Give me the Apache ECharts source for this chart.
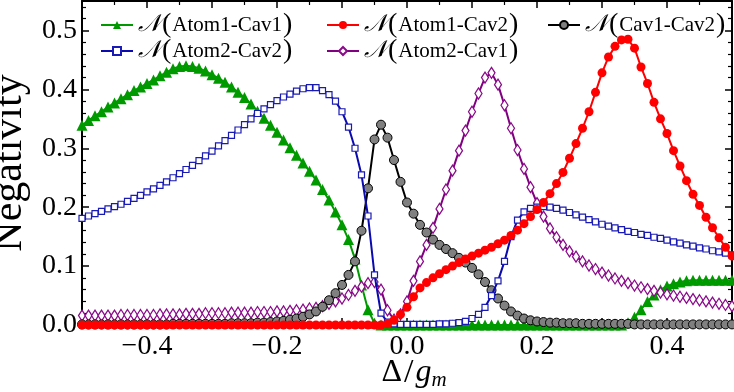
<!DOCTYPE html>
<html>
<head>
<meta charset="utf-8">
<script src="https://cdn.jsdelivr.net/npm/echarts@6/dist/echarts.min.js"></script>
<style>html,body{margin:0;padding:0;background:#fff}#c{width:734px;height:392px}</style>
</head>
<body>
<div id="c"></div>
<script>
// x grid: Delta/g_m from -0.5 to 0.5 in steps of 0.01
const xs = Array.from({length: 101}, (_, i) => +(-0.5 + 0.01 * i).toFixed(2));
const xTicks = [-0.4, -0.2, 0.0, 0.2, 0.4];
const yTicks = [0.0, 0.1, 0.2, 0.3, 0.4, 0.5];

const atom1Cav1 = [
  .339,.347,.355,.362,.370,.377,.384,.391,.398,.404,
  .410,.416,.423,.429,.435,.439,.440,.439,.436,.431,
  .425,.419,.412,.404,.395,.386,.375,.363,.351,.339,
  .327,.314,.301,.288,.275,.261,.246,.230,.212,.192,
  .170,.145,.112,.068,.026,.003,0,0,0,0,
  0,0,0,0,0,0,0,0,0,0,
  0,0,0,0,0,0,0,0,0,0,
  0,0,0,0,0,0,0,0,0,0,
  0,0,0,0,.004,.013,.026,.040,.051,.060,
  .066,.070,.073,.075,.076,.076,.076,.076,.076,.076,.076
];
const atom2Cav2 = [
  .181,.185,.189,.193,.197,.201,.205,.210,.215,.220,
  .226,.231,.237,.243,.250,.257,.264,.271,.279,.287,
  .295,.304,.313,.322,.331,.340,.350,.359,.367,.374,
  .381,.387,.392,.397,.401,.403,.403,.398,.391,.380,
  .362,.336,.300,.255,.185,.085,.020,.005,.002,.001,
  .001,.001,.001,.001,.001,.002,.002,.003,.004,.006,
  .011,.018,.030,.050,.075,.108,.150,.178,.192,.198,
  .200,.201,.200,.198,.195,.191,.187,.183,.179,.175,
  .171,.168,.165,.162,.159,.157,.154,.152,.149,.147,
  .144,.141,.139,.136,.134,.131,.129,.126,.124,.122,.119
];
const cav1Cav2 = [
  .001,.001,.001,.001,.001,.001,.001,.001,.001,.001,
  .001,.001,.001,.001,.002,.002,.002,.002,.002,.002,
  .002,.002,.002,.003,.003,.003,.003,.004,.004,.005,
  .006,.007,.009,.011,.014,.018,.023,.031,.042,.054,
  .068,.085,.108,.160,.232,.315,.340,.318,.280,.243,
  .208,.189,.170,.157,.145,.136,.129,.122,.114,.106,
  .097,.086,.073,.059,.045,.033,.023,.016,.011,.008,
  .006,.005,.004,.004,.003,.003,.003,.002,.002,.002,
  .002,.002,.002,.002,.002,.001,.001,.001,.001,.001,
  .001,.001,.001,.001,.001,.001,.001,.001,.001,.001,.001
];
const atom1Cav2 = [
  0,0,0,0,0,0,0,0,0,0,
  0,0,0,0,0,0,0,0,0,0,
  0,0,0,0,0,0,0,0,0,0,
  0,0,0,0,0,0,0,0,0,0,
  0,0,0,0,0,0,0,.002,.008,.018,
  .030,.048,.063,.072,.080,.087,.094,.100,.106,.112,
  .117,.122,.127,.132,.138,.144,.152,.161,.172,.184,
  .196,.208,.223,.240,.259,.283,.308,.334,.362,.395,
  .428,.455,.473,.484,.485,.470,.438,.410,.378,.350,
  .325,.296,.270,.245,.222,.203,.183,.165,.148,.132,.117
];
const atom2Cav1 = [
  .016,.016,.016,.016,.016,.016,.017,.017,.017,.017,
  .017,.017,.018,.018,.018,.018,.019,.019,.019,.020,
  .020,.020,.020,.021,.021,.021,.021,.022,.022,.022,
  .023,.023,.024,.025,.026,.028,.029,.032,.036,.040,
  .045,.051,.058,.065,.071,.073,.060,.025,.009,.018,
  .040,.075,.108,.136,.165,.197,.230,.262,.296,.330,
  .362,.393,.420,.428,.408,.373,.334,.297,.265,.234,
  .207,.184,.164,.149,.136,.125,.116,.108,.101,.095,
  .089,.084,.079,.075,.071,.067,.064,.061,.058,.055,
  .052,.050,.048,.046,.044,.042,.040,.038,.036,.034,.032
];

const pair = arr => xs.map((x, i) => [x, arr[i]]);
const SERIF = "'Liberation Serif','DejaVu Serif',serif";

const chart = echarts.init(document.getElementById('c'), null, {renderer: 'canvas'});

function legendAt(name, left, top) {
  return {
    data: [name], left: left, top: top, orient: 'horizontal',
    itemWidth: 32, itemHeight: 10, selectedMode: false, padding: 0,
    formatter: n => '{n|𝒩}{p|(}{t|' + n + '}{p|)}',
    textStyle: {
      color: '#000',
      rich: {
        n: {fontFamily: "'DejaVu Serif','DejaVu Sans',serif", fontSize: 24, fontStyle: 'italic', color: '#000'},
        p: {fontFamily: SERIF, fontSize: 28, color: '#000', padding: [0, 1, 0, 1]},
        t: {fontFamily: SERIF, fontSize: 21, color: '#000'}
      }
    }
  };
}

const axisCommon = {
  type: 'value',
  axisLine: {show: true, onZero: false, lineStyle: {color: '#000', width: 2}},
  axisTick: {show: true, inside: true, length: 7, lineStyle: {color: '#000', width: 1.5}},
  minorTick: {show: true, length: 4, lineStyle: {color: '#000', width: 1.2}},
  splitLine: {show: false},
  minorSplitLine: {show: false}
};

const fmtX = v => {
  const hit = xTicks.some(t => Math.abs(t - v) < 1e-6);
  if (!hit) return '';
  return (v < -1e-9 ? '\u2212' : '') + Math.abs(v).toFixed(1);
};
const fmtY = v => {
  const hit = yTicks.some(t => Math.abs(t - v) < 1e-6);
  return hit ? v.toFixed(1) : '';
};

const option = {
  animation: false,
  backgroundColor: '#fff',
  grid: {left: 82, right: 2, top: 1, bottom: 67, containLabel: false, outerBoundsMode: 'none'},
  legend: [
    legendAt('Atom1-Cav1', 100, 11),
    legendAt('Atom1-Cav2', 326, 11),
    legendAt('Cav1-Cav2', 547, 11),
    legendAt('Atom2-Cav2', 100, 37),
    legendAt('Atom2-Cav1', 326, 37)
  ],
  xAxis: [
    Object.assign({}, axisCommon, {
      position: 'bottom', min: -0.5, max: 0.5, interval: 0.1,
      minorTick: Object.assign({}, axisCommon.minorTick, {splitNumber: 2}),
      axisLabel: {show: true, formatter: fmtX, margin: 8, color: '#000', fontFamily: SERIF, fontSize: 28},
      name: '{d|\u0394}{s|/}{g|g}{m|m}', nameLocation: 'middle', nameGap: 30,
      nameMoveOverlap: false,
      nameTextStyle: {
        padding: [0, 0, 0, 14],
        rich: {
          d: {fontFamily: SERIF, fontSize: 32, color: '#000', lineHeight: 36},
          s: {fontFamily: SERIF, fontSize: 34, color: '#000', lineHeight: 36, padding: [0, 2, 0, 2]},
          g: {fontFamily: SERIF, fontSize: 32, fontStyle: 'italic', color: '#000', lineHeight: 36},
          m: {fontFamily: SERIF, fontSize: 21, fontStyle: 'italic', color: '#000', lineHeight: 14, verticalAlign: 'bottom'}
        }
      }
    }),
    Object.assign({}, axisCommon, {
      position: 'top', min: -0.5, max: 0.5, interval: 0.1,
      minorTick: Object.assign({}, axisCommon.minorTick, {splitNumber: 2}),
      axisLabel: {show: false}
    })
  ],
  yAxis: [
    Object.assign({}, axisCommon, {
      position: 'left', min: 0, max: 0.55, interval: 0.1,
      minorTick: Object.assign({}, axisCommon.minorTick, {splitNumber: 5}),
      axisLabel: {show: true, formatter: fmtY, margin: 5, color: '#000', fontFamily: SERIF, fontSize: 28},
      name: 'Negativity', nameLocation: 'middle', nameRotate: 90, nameGap: 45,
      nameTextStyle: {fontFamily: SERIF, fontSize: 42, color: '#000'}
    }),
    Object.assign({}, axisCommon, {
      position: 'right', min: 0, max: 0.55, interval: 0.1,
      minorTick: Object.assign({}, axisCommon.minorTick, {splitNumber: 5}),
      axisLabel: {show: false}
    })
  ],
  series: [
    {
      name: 'Atom1-Cav1', type: 'line', data: pair(atom1Cav1), showAllSymbol: true,
      symbol: 'triangle', symbolSize: 11,
      itemStyle: {color: '#009a00'}, lineStyle: {color: '#009a00', width: 2}, z: 2
    },
    {
      name: 'Atom2-Cav1', type: 'line', data: pair(atom2Cav1), showAllSymbol: true,
      symbol: 'diamond', symbolSize: [7, 11],
      itemStyle: {color: '#fff', borderColor: '#8a0a8a', borderWidth: 1.3},
      lineStyle: {color: '#800080', width: 2}, z: 3
    },
    {
      name: 'Cav1-Cav2', type: 'line', data: pair(cav1Cav2), showAllSymbol: true,
      symbol: 'circle', symbolSize: 9,
      itemStyle: {color: '#808080', borderColor: '#000', borderWidth: 1},
      lineStyle: {color: '#000', width: 2}, z: 4
    },
    {
      name: 'Atom2-Cav2', type: 'line', data: pair(atom2Cav2), showAllSymbol: true,
      symbol: 'rect', symbolSize: 6,
      itemStyle: {color: '#fff', borderColor: '#1a1ab4', borderWidth: 1.2},
      lineStyle: {color: '#0a0ab0', width: 2}, z: 5
    },
    {
      name: 'Atom1-Cav2', type: 'line', data: pair(atom1Cav2), showAllSymbol: true,
      symbol: 'circle', symbolSize: 9,
      itemStyle: {color: '#ff0000'}, lineStyle: {color: '#ff0000', width: 2}, z: 6
    }
  ]
};
chart.setOption(option);
</script>
</body>
</html>
